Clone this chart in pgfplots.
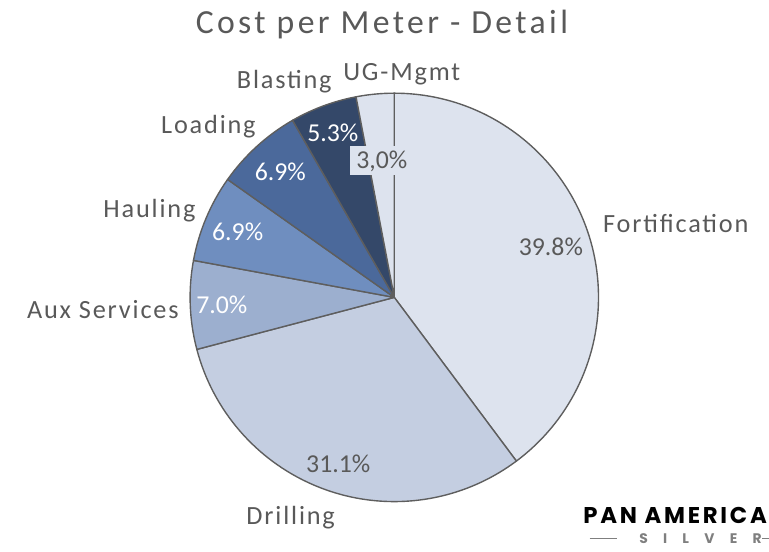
\documentclass[border=0pt]{standalone}
\usepackage{pgfplots}
\usepackage{pgfplotstable}
\pgfplotsset{compat=1.18}
\usepackage{fontspec}
\setmainfont{Carlito}
\newfontfamily\labelfont[LetterSpace=7]{Carlito}
\newfontfamily\titlefont[LetterSpace=10]{Carlito}
\newfontfamily\logofont[LetterSpace=12]{Poppins}
\newfontfamily\silverfont[LetterSpace=110]{Poppins}
\definecolor{slice0}{HTML}{DDE3EE}
\definecolor{slice1}{HTML}{C4CEE1}
\definecolor{slice2}{HTML}{9CAFCF}
\definecolor{slice3}{HTML}{6F8EBF}
\definecolor{slice4}{HTML}{4B699B}
\definecolor{slice5}{HTML}{344869}
\definecolor{slice6}{HTML}{DDE3EE}
\definecolor{txtgray}{HTML}{595959}
\definecolor{edgegray}{HTML}{5E5E5E}
\definecolor{logogray}{HTML}{7F7F7F}

\pgfplotstableread[col sep=comma]{
label,value
Fortification,39.8
Drilling,31.1
Aux Services,7.0
Hauling,6.9
Loading,6.9
Blasting,5.3
UG-Mgmt,3.0
}\costdata

\begin{document}
\def\piecmds{}
\def\curang{90}
\pgfplotsforeachungrouped \i in {0,...,6}{%
  \pgfplotstablegetelem{\i}{value}\of\costdata
  \pgfmathsetmacro\endang{\curang-3.6*\pgfplotsretval}%
  \xdef\piecmds{\unexpanded\expandafter{\piecmds}%
    \noexpand\filldraw[fill=slice\i,draw=edgegray,line width=1.4bp,line join=round]
    (axis cs:391,300) -- ++(\curang:206bp) arc[start angle=\curang,end angle=\endang,radius=206bp] -- cycle;}%
  \global\let\curang\endang
}
\begin{tikzpicture}
\begin{axis}[width=769bp,height=556bp,scale only axis,
  xmin=0,xmax=769,ymin=0,ymax=556,y dir=reverse,
  hide axis,clip=false]
\piecmds
% title
\node[anchor=base,text=txtgray,font=\titlefont\fontsize{34bp}{40bp}\selectfont,inner sep=0pt] at (axis cs:378.5,34) {Cost per Meter - Detail};
% category labels
\begin{scope}[every node/.style={anchor=base,text=txtgray,inner sep=0pt,font=\labelfont\fontsize{26.5bp}{30bp}\selectfont}]
\node at (axis cs:398.5,81) {UG-Mgmt};
\node at (axis cs:280,89) {Blasting};
\node at (axis cs:203.5,135) {Loading};
\node at (axis cs:144,219) {Hauling};
\node at (axis cs:97,321) {Aux Services};
\node at (axis cs:675,235) {Fortification};
\node at (axis cs:286.5,529) {Drilling};
\end{scope}
% percentage labels
\begin{scope}[every node/.style={anchor=base,inner sep=0pt,font=\fontsize{26bp}{30bp}\selectfont}]
\node[text=txtgray] at (axis cs:549,258) {39.8\%};
\node[text=txtgray] at (axis cs:334.5,477) {31.1\%};
\node[text=white] at (axis cs:217,316) {7.0\%};
\node[text=white] at (axis cs:233,243) {6.9\%};
\node[text=white] at (axis cs:276,182) {6.9\%};
\node[text=white] at (axis cs:329,143) {5.3\%};
\node[text=txtgray,fill=slice6,text height=16bp,text depth=0bp,inner xsep=6bp,inner ysep=7bp] at (axis cs:378.5,170) {3,0\%};
\end{scope}
% logo
\node[anchor=base east,inner sep=0pt,font=\logofont\bfseries\fontsize{23bp}{26bp}\selectfont] at (axis cs:767,528) {PAN AMERICA};
\node[anchor=base west,inner sep=0pt,text=logogray,font=\silverfont\bfseries\fontsize{14bp}{16bp}\selectfont] at (axis cs:638,548) {SILVER};
\draw[logogray,line width=1.2bp] (axis cs:588,543) -- (axis cs:616,543);
\draw[logogray,line width=1.2bp] (axis cs:762,543) -- (axis cs:790,543);
\end{axis}
\pgfresetboundingbox
\useasboundingbox (current axis.south west) rectangle (current axis.north east);
\end{tikzpicture}
\end{document}
